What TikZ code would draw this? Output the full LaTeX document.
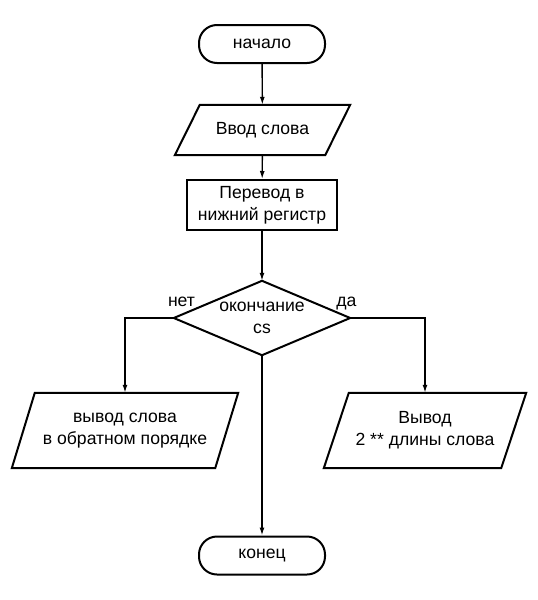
\documentclass[tikz,border=0pt]{standalone}
\usepackage{fontspec}
\setmainfont{Liberation Sans}
\usetikzlibrary{arrows.meta}
\begin{document}
\begin{tikzpicture}[x=1pt,y=-1pt,
  txt/.style={font=\fontsize{17.6}{22}\selectfont, align=center, inner sep=0pt},
  terminal/.style={txt, draw, line width=2pt, rounded corners=18pt,
    minimum width=126pt, minimum height=38pt},
  procbox/.style={txt, draw, line width=2pt, minimum width=150pt, minimum height=50pt},
  holder/.style={txt, minimum width=#1, minimum height=75pt},
  outline/.style={line width=2pt, line join=miter},
  flow/.style={line width=1.4pt, -{Latex[length=8pt,width=5pt]}},
  tag/.style={txt, anchor=base}]
\useasboundingbox (0,0) rectangle (538,600);

% blocks
\node[terminal] (start) at (262,44) {начало};
\node[txt, minimum width=150pt, minimum height=50pt] (in) at (262.5,130) {Ввод слова};
\node[procbox] (low) at (262,205) {Перевод в\\нижний регистр};
\node[txt, minimum width=176pt, minimum height=74pt] (dec) at (262,318) {окончание\\cs};
\node[holder=203pt] (outl) at (125,430.5) {вывод слова\\в обратном порядке};
\node[holder=177pt] (outr) at (425,430.5) {Вывод\\2 ** длины слова};
\node[terminal] (stop) at (262,555.5) {конец};

% outlines of the input/output and decision shapes
\draw[outline] ([xshift=12.5pt]in.north west) -- ([xshift=12.5pt]in.north east)
  -- ([xshift=-12.5pt]in.south east) -- ([xshift=-12.5pt]in.south west) -- cycle;
\draw[outline] (dec.north) -- (dec.east) -- (dec.south) -- (dec.west) -- cycle;
\draw[outline] ([xshift=11.5pt]outl.north west) -- ([xshift=11.5pt]outl.north east)
  -- ([xshift=-11.5pt]outl.south east) -- ([xshift=-11.5pt]outl.south west) -- cycle;
\draw[outline] ([xshift=12.5pt]outr.north west) -- ([xshift=12.5pt]outr.north east)
  -- ([xshift=-12.5pt]outr.south east) -- ([xshift=-12.5pt]outr.south west) -- cycle;

% branch labels
\node[tag] (no) at (181.5,306) {нет};
\node[tag] (yes) at (346.5,306) {да};

% connectors
\draw[flow] (start) -- (in);
\draw[flow] (in) -- (low);
\draw[flow] (low) -- (dec);
\draw[flow] (dec.west) -| (outl.north);
\draw[flow] (dec.east) -| (outr.north);
\draw[flow] (dec.south) -- (stop);
\end{tikzpicture}
\end{document}
